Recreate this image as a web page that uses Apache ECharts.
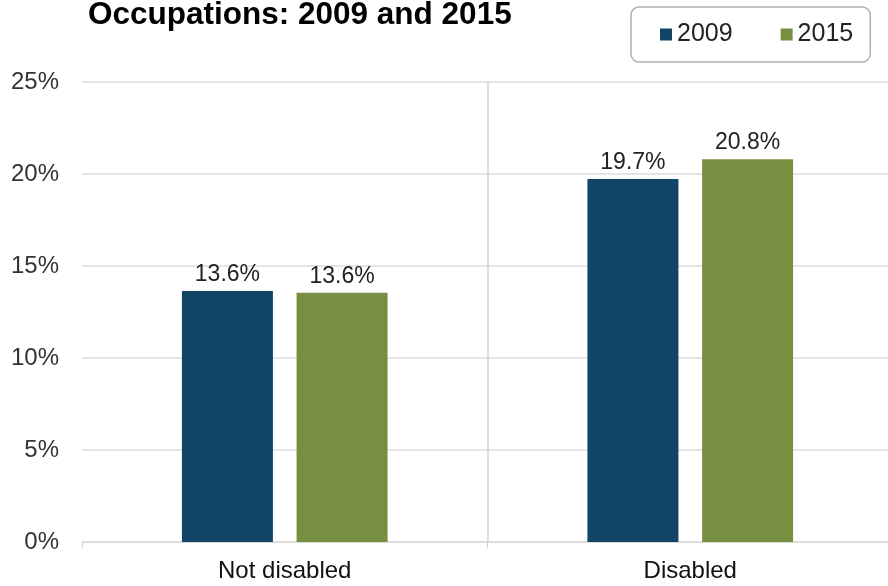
<!DOCTYPE html>
<html>
<head>
<meta charset="utf-8">
<script src="https://cdn.jsdelivr.net/npm/echarts@6/dist/echarts.min.js"></script>
<style>
html,body{margin:0;padding:0;background:#fff;}
#chart{width:888px;height:586px;}
</style>
</head>
<body>
<div id="chart"></div>
<script>
var titleText = 'Occupations: 2009 and 2015';
var categories = ['Not disabled', 'Disabled'];
var seriesNames = ['2009', '2015'];
var values2009 = [13.64, 19.73];
var values2015 = [13.55, 20.8];
var yTicks = [0, 5, 10, 15, 20, 25];
var colors = ['#114467', '#778F40'];

var chart = echarts.init(document.getElementById('chart'), null, {renderer: 'canvas'});
var FONT = 'Liberation Sans, Arial, sans-serif';
var labelOpt = {
  show: true, position: 'top', distance: 5,
  color: '#222', fontSize: 23, fontFamily: FONT,
  formatter: function (p) { return p.value.toFixed(1) + '%'; }
};
chart.setOption({
  animation: false,
  backgroundColor: '#fff',
  title: {
    text: titleText, left: 83, top: -6,
    textStyle: {fontSize: 31.5, fontWeight: 'bold', color: '#000', fontFamily: FONT}
  },
  legend: {
    data: seriesNames, left: 631, top: 7,
    orient: 'horizontal',
    padding: [15, 17, 15, 29],
    borderColor: '#b0b0b0', borderWidth: 1.5, borderRadius: 8,
    itemWidth: 12, itemHeight: 12, itemGap: 48, icon: 'rect',
    textStyle: {fontSize: 25, color: '#222', fontFamily: FONT}
  },
  grid: {left: 82, width: 811, top: 82, bottom: 44, outerBoundsMode: 'none', containLabel: false},
  xAxis: {
    type: 'category', data: categories,
    axisLine: {show: true, lineStyle: {color: '#d9d9d9', width: 1.5}},
    axisTick: {show: true, length: 6, lineStyle: {color: '#d0d0d0'}},
    axisLabel: {fontSize: 24, color: '#111', fontFamily: FONT, margin: 17},
    splitLine: {show: true, lineStyle: {color: ['rgba(0,0,0,0)', '#d0d0d0', 'rgba(0,0,0,0)'], width: 1.5}}
  },
  yAxis: {
    type: 'value', min: yTicks[0], max: yTicks[yTicks.length - 1], interval: yTicks[1] - yTicks[0],
    axisLine: {show: false}, axisTick: {show: false},
    axisLabel: {fontSize: 24, color: '#333', fontFamily: FONT, margin: 23, formatter: '{value}%'},
    splitLine: {lineStyle: {color: '#dcdcdc', width: 1.5}}
  },
  series: [
    {name: seriesNames[0], type: 'bar', data: values2009, barWidth: 91, barGap: '26%',
     itemStyle: {color: colors[0]}, label: labelOpt},
    {name: seriesNames[1], type: 'bar', data: values2015, barWidth: 91,
     itemStyle: {color: colors[1]}, label: labelOpt}
  ]
});
</script>
</body>
</html>
